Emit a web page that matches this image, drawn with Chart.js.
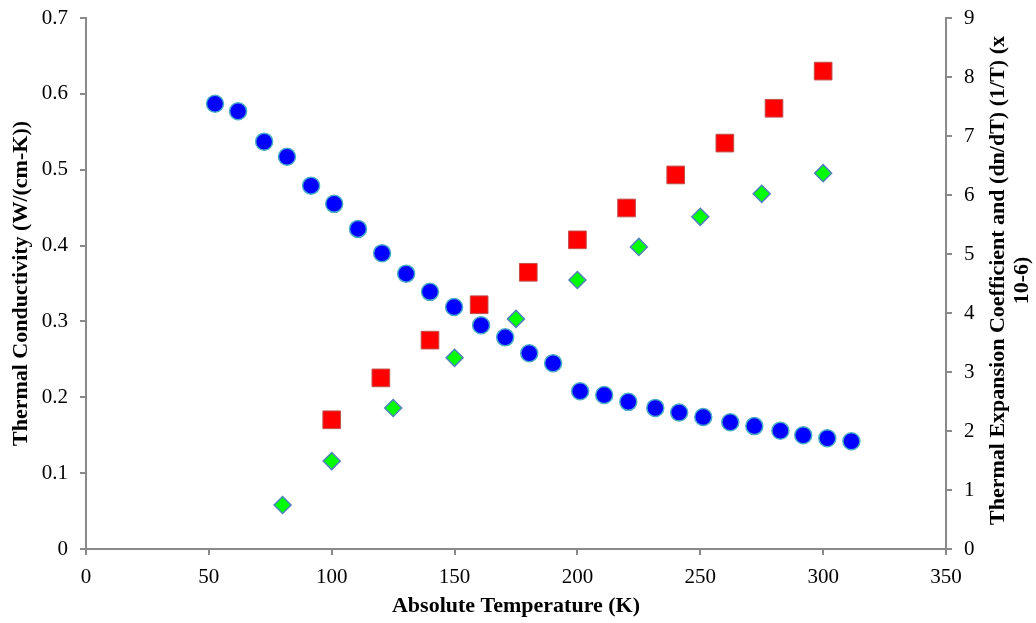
<!DOCTYPE html>
<html>
<head>
<meta charset="utf-8">
<script src="https://cdn.jsdelivr.net/npm/chart.js@4"></script>
<style>
  body { margin: 0; background: #fff; }
  #wrap { width: 1036px; height: 623px; }
</style>
</head>
<body>
<div id="wrap"><canvas id="chart" width="1036" height="623"></canvas></div>
<script>
// thermal conductivity (left axis)
const conductivityTemps = [52.5, 61.9, 72.5, 81.8, 91.6, 101, 110.7, 120.5, 130.3, 140, 149.8, 160.8, 170.6, 180.4, 190.1,
  201.1, 210.9, 220.7, 231.7, 241.4, 251.2, 262.2, 272, 282.6, 291.9, 301.7, 311.5];
const conductivityValues = [0.587, 0.577, 0.537, 0.517, 0.479, 0.455, 0.422, 0.390, 0.363, 0.339, 0.319, 0.295, 0.279, 0.258, 0.245,
  0.208, 0.203, 0.194, 0.186, 0.180, 0.174, 0.167, 0.162, 0.156, 0.150, 0.146, 0.142];

// thermal expansion coefficient (right axis, x 10-6)
const expansionTemps = [100, 120, 140, 160, 180, 200, 220, 240, 260, 280, 300];
const expansionValues = [2.19, 2.90, 3.54, 4.14, 4.69, 5.24, 5.78, 6.34, 6.88, 7.47, 8.10];

// dn/dT (right axis, x 10-6)
const dndtTemps = [80, 100, 125, 150, 175, 200, 225, 250, 275, 300];
const dndtValues = [0.746, 1.49, 2.39, 3.24, 3.90, 4.56, 5.12, 5.63, 6.02, 6.37];

const RIGHT_TITLE = ['Thermal Expansion Coefficient and (dn/dT) (1/T) (x', '10-6)'];

const AXIS_GREY = '#8a8a8a';
const SERIF = "'Liberation Serif', 'Times New Roman', serif";
const TICK_FONT = { family: SERIF, size: 21 };
const TITLE_FONT = { family: SERIF, size: 22, weight: 'bold', lineHeight: 1.2 };

function toPoints(xs, ys) {
  return xs.map((x, i) => ({ x, y: ys[i] }));
}

function axisStyle(extra) {
  return Object.assign({
    border: { display: true, color: AXIS_GREY, width: 2 },
    grid: { drawOnChartArea: false, drawTicks: true, tickLength: 6, color: AXIS_GREY, lineWidth: 2 },
  }, extra);
}

// fixed axis sizes so the plot box sits where the original one does
function fixVertical(width) {
  return (s) => {
    s.width = width;
    s.paddingTop = 0;
    s.paddingBottom = 0;
  };
}

// chart.js always turns a right-hand title clockwise; this one reads bottom-to-top
const rightTitlePlugin = {
  id: 'rightTitle',
  afterDraw(chart) {
    const { ctx, chartArea } = chart;
    const scale = chart.scales.y1;
    ctx.save();
    ctx.font = `bold ${TITLE_FONT.size}px ${SERIF}`;
    ctx.fillStyle = '#000';
    ctx.textAlign = 'center';
    ctx.textBaseline = 'middle';
    ctx.translate(scale.right - 38, (chartArea.top + chartArea.bottom) / 2 - 3);
    ctx.rotate(-Math.PI / 2);
    RIGHT_TITLE.forEach((line, i) => ctx.fillText(line, 0, i * 24));
    ctx.restore();
  }
};

new Chart(document.getElementById('chart').getContext('2d'), {
  type: 'scatter',
  data: {
    datasets: [
      {
        label: 'Thermal Conductivity',
        data: toPoints(conductivityTemps, conductivityValues),
        yAxisID: 'y',
        pointStyle: 'circle',
        pointRadius: 8.5,
        backgroundColor: '#0000ff',
        borderColor: '#4bacc6',
        borderWidth: 1.5
      },
      {
        label: 'Thermal Expansion Coefficient',
        data: toPoints(expansionTemps, expansionValues),
        yAxisID: 'y1',
        pointStyle: 'rect',
        pointRadius: 12.5,
        backgroundColor: '#ff0000',
        borderColor: '#c0504d',
        borderWidth: 1
      },
      {
        label: 'dn/dT',
        data: toPoints(dndtTemps, dndtValues),
        yAxisID: 'y1',
        pointStyle: 'rectRot',
        pointRadius: 8.5,
        backgroundColor: '#00ff00',
        borderColor: '#4f81bd',
        borderWidth: 1.5
      }
    ]
  },
  options: {
    responsive: false,
    animation: false,
    layout: { padding: { top: 18, left: 0, right: 0, bottom: 0 } },
    plugins: {
      legend: { display: false },
      tooltip: { enabled: false }
    },
    scales: {
      x: axisStyle({
        type: 'linear',
        position: 'bottom',
        min: 0,
        max: 350,
        ticks: { stepSize: 50, color: '#000', font: TICK_FONT, padding: 10, maxRotation: 0 },
        title: { display: true, text: 'Absolute Temperature (K)', color: '#000', font: TITLE_FONT, padding: 3 },
        afterFit: (s) => { s.height = 74; s.paddingLeft = 0; s.paddingRight = 0; }
      }),
      y: axisStyle({
        type: 'linear',
        position: 'left',
        min: 0,
        max: 0.7,
        ticks: { stepSize: 0.1, color: '#000', font: TICK_FONT, padding: 12 },
        title: { display: true, text: 'Thermal Conductivity (W/(cm-K))', color: '#000', font: TITLE_FONT, padding: 8 },
        afterFit: fixVertical(86)
      }),
      y1: axisStyle({
        type: 'linear',
        position: 'right',
        min: 0,
        max: 9,
        ticks: { stepSize: 1, color: '#000', font: TICK_FONT, padding: 12 },
        title: { display: false },
        afterFit: fixVertical(90)
      })
    }
  },
  plugins: [rightTitlePlugin]
});
</script>
</body>
</html>
